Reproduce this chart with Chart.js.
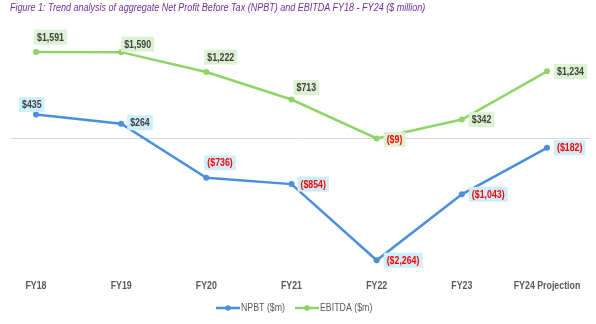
<!DOCTYPE html>
<html>
<head>
<meta charset="utf-8">
<script src="https://cdn.jsdelivr.net/npm/chart.js@4/dist/chart.umd.min.js"></script>
<style>
    html, body { margin: 0; padding: 0; background: #fff; }
    #wrap { position: relative; width: 596px; height: 324px; }
    #title {
        position: absolute; left: 10px; top: 1px;
        font-family: "Liberation Sans", Arial, sans-serif;
        font-style: italic; font-size: 11px; color: #7030a0; white-space: nowrap;
        transform: scaleX(0.82); transform-origin: left top;
    }
</style>
</head>
<body>
<div id="wrap">
    <canvas id="chart" width="596" height="324"></canvas>
    <div id="title">Figure 1: Trend analysis of aggregate Net Profit Before Tax (NPBT) and EBITDA FY18 - FY24 ($ million)</div>
</div>
<script>
const years = ['FY18', 'FY19', 'FY20', 'FY21', 'FY22', 'FY23', 'FY24 Projection'];
const npbt = [435, 264, -736, -854, -2264, -1043, -182];
const ebitda = [1591, 1590, 1222, 713, -9, 342, 1234];

// label placement: left edge of text and vertical centre, relative to the point
const npbtLabelDx = [-14, 9, 1, 9, 10, 10, 10];
const npbtLabelDy = [-10, -1, -15, 0, 0, 0, 0];
const ebitdaLabelDx = [1, 3, 1, 5, 10, 10, 10];
const ebitdaLabelDy = [-15, -8, -15, -12, 1, 0, 0];

const blue = '#4a8fdc';
const green = '#8fd468';
const squeeze = 0.8;

function fmt(v) {
    const s = '$' + Math.abs(v).toLocaleString('en-US');
    return v < 0 ? '(' + s + ')' : s;
}

// narrow text: normal font squeezed horizontally
function narrowText(ctx, text, x, y) {
    ctx.save();
    ctx.translate(x, y);
    ctx.scale(squeeze, 1);
    ctx.fillText(text, 0, 0);
    ctx.restore();
}

const extras = {
    id: 'extras',
    beforeDatasetsDraw(chart) {
        const ctx = chart.ctx;
        const y0 = chart.scales.y.getPixelForValue(0);
        ctx.save();
        ctx.strokeStyle = '#d9d9d9';
        ctx.lineWidth = 1;
        ctx.beginPath();
        ctx.moveTo(11, Math.round(y0) + 0.5);
        ctx.lineTo(590, Math.round(y0) + 0.5);
        ctx.stroke();

        // category labels
        const xs = chart.scales.x;
        ctx.font = 'bold 11px "Liberation Sans", Arial, sans-serif';
        ctx.fillStyle = '#595959';
        ctx.textBaseline = 'middle';
        years.forEach((yr, i) => {
            const w = ctx.measureText(yr).width * squeeze;
            narrowText(ctx, yr, xs.getPixelForValue(i) - w / 2, 286);
        });
        ctx.restore();
    },
    afterDatasetsDraw(chart) {
        const ctx = chart.ctx;
        ctx.save();
        ctx.font = 'bold 11px "Liberation Sans", Arial, sans-serif';
        ctx.textBaseline = 'middle';
        ctx.textAlign = 'left';
        const sets = [
            { meta: chart.getDatasetMeta(0), vals: npbt, dx: npbtLabelDx, dy: npbtLabelDy, bg: '#cdeefb' },
            { meta: chart.getDatasetMeta(1), vals: ebitda, dx: ebitdaLabelDx, dy: ebitdaLabelDy, bg: '#dcf2d2' }
        ];
        for (const s of sets) {
            s.meta.data.forEach((pt, i) => {
                const text = fmt(s.vals[i]);
                const w = ctx.measureText(text).width * squeeze;
                const x = pt.x + s.dx[i];
                const y = pt.y + s.dy[i];
                ctx.fillStyle = s.bg;
                ctx.fillRect(x - 3, y - 7.5, w + 6, 15);
                ctx.fillStyle = s.vals[i] < 0 ? '#ff0000' : '#404040';
                narrowText(ctx, text, x, y + 0.5);
            });
        }

        // legend
        const ly = 308;
        const items = [
            { x: 216, color: blue, text: 'NPBT ($m)' },
            { x: 295, color: green, text: 'EBITDA ($m)' }
        ];
        ctx.font = '11px "Liberation Sans", Arial, sans-serif';
        for (const it of items) {
            ctx.strokeStyle = it.color;
            ctx.lineWidth = 2.5;
            ctx.beginPath();
            ctx.moveTo(it.x, ly);
            ctx.lineTo(it.x + 24, ly);
            ctx.stroke();
            ctx.fillStyle = it.color;
            ctx.beginPath();
            ctx.arc(it.x + 12, ly, 2.8, 0, Math.PI * 2);
            ctx.fill();
            ctx.fillStyle = '#595959';
            narrowText(ctx, it.text, it.x + 25, ly);
        }
        ctx.restore();
    }
};

new Chart(document.getElementById('chart'), {
    type: 'line',
    data: {
        labels: years,
        datasets: [
            {
                label: 'NPBT ($m)',
                data: npbt,
                borderColor: blue,
                backgroundColor: blue,
                borderWidth: 2.5,
                pointRadius: 3,
                pointBorderWidth: 0,
                tension: 0
            },
            {
                label: 'EBITDA ($m)',
                data: ebitda,
                borderColor: green,
                backgroundColor: green,
                borderWidth: 2.5,
                pointRadius: 3,
                pointBorderWidth: 0,
                tension: 0
            }
        ]
    },
    options: {
        responsive: false,
        animation: false,
        layout: { padding: { left: 36, right: 49, top: 30, bottom: 51 } },
        scales: {
            x: {
                display: false,
                offset: false
            },
            y: {
                display: false,
                min: -2500,
                max: 2000
            }
        },
        plugins: {
            legend: { display: false },
            tooltip: { enabled: false }
        }
    },
    plugins: [extras]
});
</script>
</body>
</html>
